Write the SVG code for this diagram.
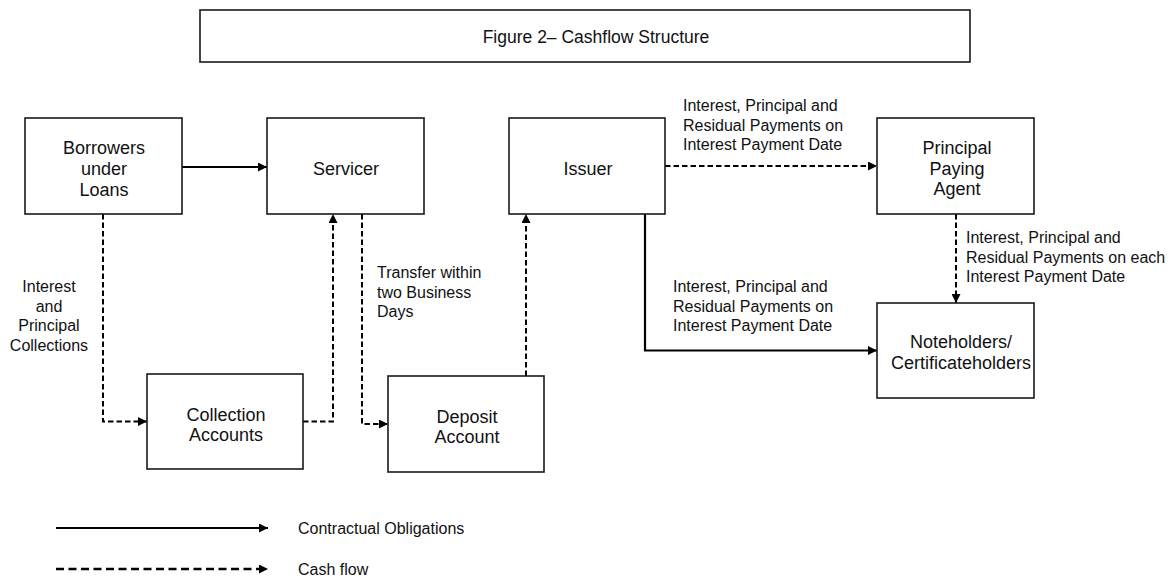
<svg xmlns="http://www.w3.org/2000/svg" width="1176" height="584" viewBox="0 0 1176 584">
<style>
.box{fill:#fff;stroke:#1a1a1a;stroke-width:1.6}
.nt{font-family:"Liberation Sans",Arial,sans-serif;font-size:18px;fill:#111;text-anchor:middle}
.lb{font-family:"Liberation Sans",Arial,sans-serif;font-size:16px;fill:#111}
.solid{fill:none;stroke:#000;stroke-width:2.2;marker-end:url(#ah)}
.dash{fill:none;stroke:#000;stroke-width:2;stroke-dasharray:5.5,3;marker-end:url(#ah)}
.ldash{fill:none;stroke:#000;stroke-width:2.4;stroke-dasharray:8,4.5;marker-end:url(#ah)}
</style>
<defs>
<marker id="ah" viewBox="0 0 10 10" refX="10" refY="5" markerWidth="10" markerHeight="9" markerUnits="userSpaceOnUse" orient="auto">
<path d="M0,0 L10,5 L0,10 z" fill="#000"/>
</marker>
</defs>
<rect width="1176" height="584" fill="#fff"/>

<g id="title">
<rect class="box" x="200" y="10" width="770" height="52"/>
<text x="596" y="43" font-family="Liberation Sans, Arial, sans-serif" font-size="17.5" fill="#111" text-anchor="middle">Figure 2– Cashflow Structure</text>
</g>

<g id="connectors">
<path class="solid" d="M182,167 H267"/>
<path class="dash" d="M103,214 V421.5 H147"/>
<path class="dash" d="M303,421.5 H333 V214"/>
<path class="dash" d="M362,214 V424 H388"/>
<path class="dash" d="M526,376 V214"/>
<path class="solid" d="M645,214 V350.5 H877"/>
<path class="dash" d="M665,166 H877"/>
<path class="dash" d="M956,214 V303"/>
</g>

<g id="borrowers">
<rect class="box" x="25" y="118" width="157" height="96"/>
<text class="nt" x="104" y="154">Borrowers</text>
<text class="nt" x="104" y="175">under</text>
<text class="nt" x="104" y="196">Loans</text>
</g>

<g id="servicer">
<rect class="box" x="267" y="118" width="157" height="96"/>
<text class="nt" x="346" y="175">Servicer</text>
</g>

<g id="issuer">
<rect class="box" x="509" y="118" width="156" height="96"/>
<text class="nt" x="588" y="175">Issuer</text>
</g>

<g id="paying-agent">
<rect class="box" x="877" y="118" width="157" height="96"/>
<text class="nt" x="957" y="154">Principal</text>
<text class="nt" x="957" y="174.5">Paying</text>
<text class="nt" x="957" y="195">Agent</text>
</g>

<g id="collection">
<rect class="box" x="147" y="374" width="156" height="95"/>
<text class="nt" x="226" y="421">Collection</text>
<text class="nt" x="226" y="441">Accounts</text>
</g>

<g id="deposit">
<rect class="box" x="388" y="376" width="156" height="96"/>
<text class="nt" x="467" y="422.5">Deposit</text>
<text class="nt" x="467" y="442.5">Account</text>
</g>

<g id="noteholders">
<rect class="box" x="877" y="303" width="157" height="95"/>
<text class="nt" x="961" y="348">Noteholders/</text>
<text class="nt" x="961" y="369">Certificateholders</text>
</g>

<g id="labels">
<text class="lb" text-anchor="middle" x="49" y="292">Interest</text>
<text class="lb" text-anchor="middle" x="49" y="311.5">and</text>
<text class="lb" text-anchor="middle" x="49" y="331">Principal</text>
<text class="lb" text-anchor="middle" x="49" y="350.5">Collections</text>

<text class="lb" x="377" y="278">Transfer within</text>
<text class="lb" x="377" y="297.5">two Business</text>
<text class="lb" x="377" y="317">Days</text>

<text class="lb" x="683" y="111">Interest, Principal and</text>
<text class="lb" x="683" y="130.5">Residual Payments on</text>
<text class="lb" x="683" y="150">Interest Payment Date</text>

<text class="lb" x="673" y="292">Interest, Principal and</text>
<text class="lb" x="673" y="311.5">Residual Payments on</text>
<text class="lb" x="673" y="331">Interest Payment Date</text>

<text class="lb" x="966" y="243">Interest, Principal and</text>
<text class="lb" x="966" y="262.5">Residual Payments on each</text>
<text class="lb" x="966" y="282">Interest Payment Date</text>
</g>

<g id="legend">
<path class="solid" d="M56,528 H268"/>
<path class="ldash" d="M56,569 H268"/>
<text class="lb" x="298" y="533.5">Contractual Obligations</text>
<text class="lb" x="298" y="575">Cash flow</text>
</g>
</svg>
